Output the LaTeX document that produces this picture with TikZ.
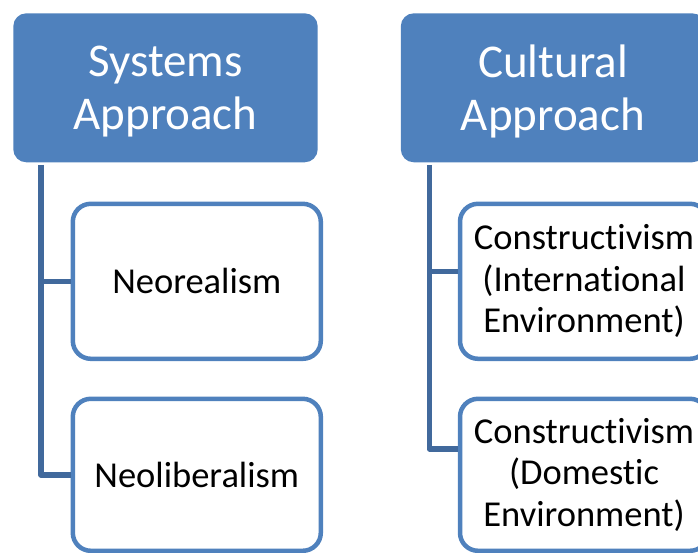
\documentclass[tikz,border=0pt]{standalone}
\usepackage{fontspec}
\setmainfont{Carlito}[Ligatures={NoCommon,NoContextual}]
\definecolor{boxblue}{HTML}{4F81BD}
\definecolor{linkblue}{HTML}{41699C}
\tikzset{
  topbox/.style={fill=boxblue, draw=none, rounded corners=13pt, minimum width=304.4pt, minimum height=149pt, inner sep=0pt, text=white, align=center, text depth=1pt, font=\fontsize{47}{53}\selectfont},
  childbox/.style={fill=white, draw=boxblue, line width=4.5pt, rounded corners=18pt, minimum width=248pt, inner sep=0pt, text=black, align=center, font=\fontsize{36.5}{41.5}\selectfont},
  link/.style={draw=linkblue, line width=5.5pt, line join=round}
}
\begin{document}
\begin{tikzpicture}[x=1pt,y=1pt]
\useasboundingbox (0,0) rectangle (698,552);
\clip (0,0) rectangle (698,552);
\node[topbox] (lt) at (165.5,464.2) {Systems\\Approach};
\node[topbox] (rt) at (553,464.2) {Cultural\\Approach};
\node[childbox, minimum height=155pt] (lc1) at (196.8,270.7) {Neorealism};
\node[childbox, minimum height=152pt] (lc2) at (196.8,77.2) {Neoliberalism};
\node[childbox, minimum height=155pt] (rc1) at (584,270.7) {Constructivism\\(International\\Environment)};
\node[childbox, minimum height=152pt] (rc2) at (584,77.2) {Constructivism\\(Domestic\\Environment)};
\coordinate (lx) at (41,387);
\coordinate (rx) at (429.3,387);
\draw[link] (lx) |- (lc2.west);
\draw[link] (lc1.west -| lx) -- (lc1.west);
\draw[link] (rx) |- ([yshift=26pt]rc2.west);
\draw[link] ([yshift=10pt]rc1.west -| rx) -- ([yshift=10pt]rc1.west);
\end{tikzpicture}
\end{document}
